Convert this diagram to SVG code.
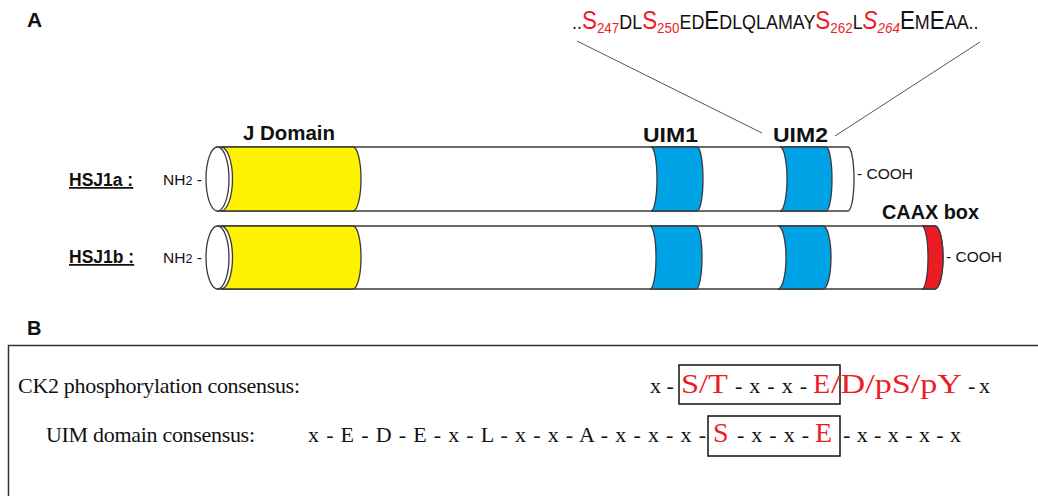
<svg xmlns="http://www.w3.org/2000/svg" width="1038" height="496" viewBox="0 0 1038 496">
<style>
.sans{font-family:"Liberation Sans",Arial,sans-serif;}
.serif{font-family:"Liberation Serif","Times New Roman",serif;}
.lbl{font-family:"Liberation Sans",Arial,sans-serif;font-weight:bold;fill:#111;}
.red{fill:#ED1C24;}
.blk{fill:#111;}
.out{stroke:#3a3a3a;stroke-width:1.3;}
.body{fill:#fff;}
.yel{fill:#FFF200;}
.blu{fill:#00A2E6;}
.rd{fill:#ED1C24;}
.big{font-size:25px;}
.sm{font-size:20px;}
.sub{font-size:15px;}
.conn{stroke:#555;stroke-width:1;fill:none;}
.box{fill:none;stroke:#111;stroke-width:1.5;}
.rb{font-size:28px;}
.bb{font-size:22px;}
</style>

<!-- Panel letters -->
<text class="lbl" x="27" y="27" font-size="21">A</text>
<text class="lbl" x="27" y="335" font-size="20">B</text>

<!-- Top sequence -->
<g id="sequence" transform="translate(572,29) scale(0.895,1)">
<text class="sans blk sm" x="0" y="0">..<tspan class="red big">S</tspan><tspan class="red sub" dy="4">247</tspan><tspan class="blk sm" dy="-4">DL</tspan><tspan class="red big">S</tspan><tspan class="red sub" dy="4">250</tspan><tspan class="blk sm" dy="-4">ED</tspan><tspan class="blk big">E</tspan><tspan class="blk sm">DLQLAMAY</tspan><tspan class="red big">S</tspan><tspan class="red sub" dy="4">262</tspan><tspan class="blk sm" dy="-4">L</tspan><tspan class="red big" font-style="italic">S</tspan><tspan class="red sub" font-style="italic" dy="4">264</tspan><tspan class="blk big" dy="-4">E</tspan><tspan class="blk sm">M</tspan><tspan class="blk big">E</tspan><tspan class="blk sm">AA..</tspan></text>
</g>

<!-- Connectors -->
<g id="connectors">
<line class="conn" x1="577" y1="41" x2="762" y2="133"/>
<line class="conn" x1="980" y1="42" x2="835" y2="136"/>
</g>

<!-- Domain labels -->
<g id="labels">
<text class="lbl" x="243" y="140" font-size="20" textLength="92" lengthAdjust="spacingAndGlyphs">J Domain</text>
<text class="lbl" x="643" y="142" font-size="20" textLength="55" lengthAdjust="spacingAndGlyphs">UIM1</text>
<text class="lbl" x="773" y="142" font-size="20" textLength="55" lengthAdjust="spacingAndGlyphs">UIM2</text>
<text class="lbl" x="882" y="219" font-size="20" textLength="97" lengthAdjust="spacingAndGlyphs">CAAX box</text>
</g>

<!-- HSJ1a -->
<g id="hsj1a">
<text class="lbl" x="69" y="186" font-size="17.5" text-decoration="underline">HSJ1a :</text>
<text class="sans blk" x="163" y="185" font-size="15.5">NH<tspan font-size="12.5">2</tspan> -</text>
<path class="body out" d="M217.5,147 L848,147 A6,32 0 0 1 848,211 L217.5,211 Z"/>
<path class="yel out" d="M221,147 L353,147 A8,32 0 0 1 353,211 L221,211 A11.5,32 0 0 0 221,147 Z"/>
<path class="blu out" d="M651,147 L697,147 A6,32 0 0 1 697,211 L651,211 A6,32 0 0 0 651,147 Z"/>
<path class="blu out" d="M780,147 L826,147 A6,32 0 0 1 826,211 L780,211 A7,32 0 0 0 780,147 Z"/>
<ellipse class="body out" cx="217.5" cy="179" rx="11.5" ry="32"/>
<text class="sans blk" x="857" y="179" font-size="15.5">- COOH</text>
</g>

<!-- HSJ1b -->
<g id="hsj1b">
<text class="lbl" x="69" y="263" font-size="17.5" text-decoration="underline">HSJ1b :</text>
<text class="sans blk" x="163" y="263" font-size="15.5">NH<tspan font-size="12.5">2</tspan> -</text>
<path class="body out" d="M217.5,226 L935,226 A8,31.5 0 0 1 935,289 L217.5,289 Z"/>
<path class="yel out" d="M221,226 L353,226 A8,31.5 0 0 1 353,289 L221,289 A11.5,31.5 0 0 0 221,226 Z"/>
<path class="blu out" d="M650,226 L696,226 A6,31.5 0 0 1 696,289 L650,289 A6,31.5 0 0 0 650,226 Z"/>
<path class="blu out" d="M778,226 L823,226 A8,31.5 0 0 1 823,289 L778,289 A8,31.5 0 0 0 778,226 Z"/>
<path class="rd out" d="M922,226 L935,226 A8,31.5 0 0 1 935,289 L922,289 A6,31.5 0 0 0 922,226 Z"/>
<ellipse class="body out" cx="217.5" cy="257.5" rx="11.5" ry="31.5"/>
<text class="sans blk" x="946" y="262" font-size="15.5">- COOH</text>
</g>

<!-- Panel B -->
<g id="panelB">
<rect x="8.5" y="345.5" width="1100" height="220" fill="none" stroke="#333" stroke-width="1.5"/>
</g>

<g id="ck2" class="serif">
<text class="blk" x="18" y="393" font-size="22" textLength="282" lengthAdjust="spacing">CK2 phosphorylation consensus:</text>
<text class="blk bb" x="650" y="393">x -</text>
<rect class="box" x="679" y="365" width="161" height="39"/>
<text class="red rb" x="681" y="393" textLength="47" lengthAdjust="spacingAndGlyphs">S/T</text>
<text class="blk bb" x="735" y="393" textLength="72" lengthAdjust="spacing">- x - x -</text>
<text class="red rb" x="813" y="393">E</text>
<text class="red rb" x="831" y="393" textLength="131" lengthAdjust="spacingAndGlyphs">/D/pS/pY</text>
<text class="blk bb" x="968" y="393" textLength="22" lengthAdjust="spacing">- x</text>
</g>

<g id="uim" class="serif">
<text class="blk" x="46" y="442" font-size="22" textLength="209" lengthAdjust="spacing">UIM domain consensus:</text>
<text class="blk bb" x="308" y="442" textLength="398" lengthAdjust="spacing">x - E - D - E - x - L - x - x - A - x - x - x -</text>
<rect class="box" x="708" y="416" width="132" height="40"/>
<text class="red rb" x="713" y="442">S</text>
<text class="blk bb" x="737" y="442" textLength="72" lengthAdjust="spacing">- x - x -</text>
<text class="red rb" x="815" y="442">E</text>
<text class="blk bb" x="843" y="442" textLength="118" lengthAdjust="spacing">- x - x - x - x</text>
</g>
</svg>
